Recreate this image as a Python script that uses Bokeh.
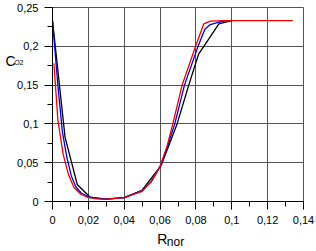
from bokeh.plotting import figure
from bokeh.models import Range1d, FixedTicker, CustomJSTickFormatter, LinearAxis
from bokeh.embed import file_html
from bokeh.resources import INLINE

# data
black_x = [0.0, 0.007, 0.0138, 0.021, 0.03, 0.04, 0.05, 0.0606, 0.0695, 0.076, 0.0815, 0.0928, 0.1]
black_y = [0.233, 0.083, 0.022, 0.0055, 0.003, 0.005, 0.0145, 0.0465, 0.1, 0.15, 0.19, 0.229, 0.233]

blue_x = [0.0, 0.003, 0.0055, 0.008, 0.0105, 0.013, 0.016, 0.02, 0.025, 0.03, 0.04, 0.05, 0.055,
          0.06, 0.064, 0.0682, 0.0736, 0.0812, 0.085, 0.088, 0.0928, 0.097, 0.1]
blue_y = [0.233, 0.15, 0.09, 0.057, 0.033, 0.019, 0.011, 0.006, 0.004, 0.003, 0.005, 0.014, 0.025,
          0.045, 0.07, 0.1, 0.15, 0.2, 0.222, 0.228, 0.231, 0.233, 0.233]

red_x = [0.0008, 0.003, 0.006, 0.009, 0.012, 0.016, 0.02, 0.025, 0.03, 0.04, 0.05, 0.055, 0.06,
         0.064, 0.0671, 0.0723, 0.0798, 0.0844, 0.088, 0.095, 0.134]
red_y = [0.178, 0.105, 0.06, 0.034, 0.018, 0.009, 0.005, 0.0035, 0.003, 0.005, 0.013, 0.026, 0.045,
         0.072, 0.1, 0.15, 0.2, 0.229, 0.2325, 0.233, 0.233]

x_ticks = [0.0, 0.02, 0.04, 0.06, 0.08, 0.1, 0.12, 0.14]
x_minor = [0.01, 0.03, 0.05, 0.07, 0.09, 0.11, 0.13]
y_ticks = [0.0, 0.05, 0.1, 0.15, 0.2, 0.25]
y_minor = [0.025, 0.075, 0.125, 0.175, 0.225]

x_title, x_sub = "R", "nor"
y_title, y_sub = "C", "O2"

FONT = "Liberation Sans"

p = figure(width=316, height=251, output_backend="svg", toolbar_location=None,
           x_range=Range1d(0, 0.14), y_range=Range1d(0, 0.25),
           min_border_left=52, min_border_right=13, min_border_top=7, min_border_bottom=49)
p.background_fill_color = "white"
p.border_fill_color = "white"
p.outline_line_color = "#555555"
p.outline_line_width = 1

fmt = CustomJSTickFormatter(code="""
let s = tick.toFixed(2);
s = s.replace(/0+$/, '').replace(/\\.$/, '');
return s.replace('.', ',');
""")

for ax, ticks, minor in ((p.xaxis[0], x_ticks, x_minor), (p.yaxis[0], y_ticks, y_minor)):
    ax.ticker = FixedTicker(ticks=ticks, minor_ticks=minor)
    ax.formatter = fmt
    ax.axis_line_color = "black"
    ax.axis_line_width = 1
    ax.major_tick_in = 0
    ax.major_tick_out = 8
    ax.minor_tick_in = 0
    ax.minor_tick_out = 5
    ax.major_tick_line_color = "black"
    ax.minor_tick_line_color = "black"
    ax.major_label_text_font = FONT
    ax.major_label_text_font_size = "11px"
    ax.major_label_text_color = "black"

p.xaxis.major_label_standoff = 6
p.yaxis.major_label_standoff = 6

p.xgrid.grid_line_color = "#555555"
p.ygrid.grid_line_color = "#555555"
p.xgrid.grid_line_width = 1
p.ygrid.grid_line_width = 1

p.line(black_x, black_y, line_color="black", line_width=1.3)
p.line(blue_x, blue_y, line_color="#0000ee", line_width=1.3)
p.line(red_x, red_y, line_color="#ee0000", line_width=1.3)


def title_axis(text, size, at, standoff, side):
    """An axis with one invisible tick whose label is the (sub)title text."""
    ax = LinearAxis(ticker=FixedTicker(ticks=[at], minor_ticks=[]),
                    formatter=CustomJSTickFormatter(code="return %r;" % text),
                    axis_line_color=None, major_tick_line_color=None,
                    minor_tick_line_color=None,
                    major_tick_in=0, major_tick_out=0, minor_tick_in=0, minor_tick_out=0,
                    major_label_standoff=standoff, major_label_text_font=FONT,
                    major_label_text_font_size=size, major_label_text_color="black",
                    axis_label=None)
    p.add_layout(ax, side)
    return ax

# axis titles with subscripts
title_axis(x_title, "14px", 0.0613, 4, "below")
title_axis(x_sub, "12px", 0.0686, -15, "below")
title_axis(y_sub, "7px", 0.1788, -9, "left")
title_axis(y_title, "14px", 0.181, -4, "left")

open("out.html", "w").write(file_html(p, INLINE))
